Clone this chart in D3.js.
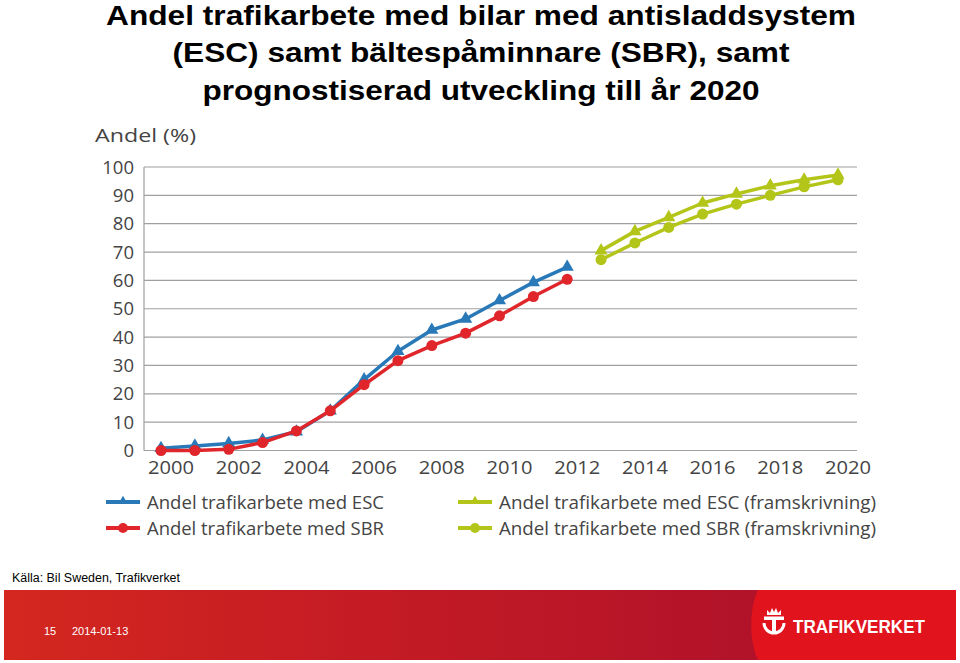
<!DOCTYPE html>
<html><head><meta charset="utf-8">
<script src="https://cdn.jsdelivr.net/npm/d3@7/dist/d3.min.js"></script>
<style>body{margin:0;background:#fff}svg{display:block}</style>
</head><body>
<svg id="c" width="960" height="663"></svg>
<script>
const titleLines = ["Andel trafikarbete med bilar med antisladdsystem","(ESC) samt bältespåminnare (SBR), samt","prognostiserad utveckling till år 2020"];
const years = [2000,2001,2002,2003,2004,2005,2006,2007,2008,2009,2010,2011,2012];
const esc = [0.8,1.6,2.5,3.7,6.6,14,25,35,42.5,46.4,52.9,59.3,64.7];
const sbr = [0,0,0.4,2.8,6.9,14,23.2,31.7,37,41.4,47.5,54.3,60.4];
const yearsF = [2013,2014,2015,2016,2017,2018,2019,2020];
const escF = [70.5,77.3,82.2,87.3,90.5,93.4,95.5,97.2];
const sbrF = [67.3,73.2,78.7,83.4,86.9,90,93,95.5];
const yTicks = [0,10,20,30,40,50,60,70,80,90,100];
const xTicks = [2000,2002,2004,2006,2008,2010,2012,2014,2016,2018,2020];
const legendLabels = ["Andel trafikarbete med ESC","Andel trafikarbete med SBR","Andel trafikarbete med ESC (framskrivning)","Andel trafikarbete med SBR (framskrivning)"];
const source = "Källa:  Bil Sweden, Trafikverket";
const pageNo = "15", dateStr = "2014-01-13", brand = "TRAFIKVERKET";

const BLUE="#2979b8", RED="#e0262b", GREEN="#b4c51a";
const svg = d3.select("#c");
const FONT = "'Open Sans', sans-serif";
const ARIAL = "'Liberation Sans', Arial, sans-serif";

// title
const tY=[25,62,100];
const tW=[750,617,557];
titleLines.forEach((t,i)=>{
  svg.append("text").attr("x",481).attr("y",tY[i]).attr("text-anchor","middle")
    .attr("font-family",ARIAL).attr("font-weight","bold")
    .attr("font-size",27).attr("fill","#000")
    .attr("textLength",tW[i]).attr("lengthAdjust","spacingAndGlyphs").text(t);
});

const x = d3.scaleLinear().domain([2000,2020]).range([161,838]);
const y = d3.scaleLinear().domain([0,100]).range([450.5,167]);

// grid
const g = svg.append("g");
g.selectAll("line.grid").data(yTicks).join("line")
  .attr("x1",144).attr("x2",857).attr("y1",d=>y(d)).attr("y2",d=>y(d))
  .attr("stroke","#a0a0a0").attr("stroke-width",1.2);
g.append("line").attr("x1",144).attr("x2",144).attr("y1",y(100)).attr("y2",y(0)).attr("stroke","#a0a0a0").attr("stroke-width",1.2);

g.selectAll("text.yt").data(yTicks).join("text")
  .attr("x",134).attr("y",d=>y(d)+6.5).attr("text-anchor","end")
  .attr("font-family",FONT).attr("font-size",18.5).attr("fill","#444").text(d=>d);
g.selectAll("text.xt").data(xTicks).join("text")
  .attr("x",d=>x(d)+10).attr("y",474).attr("text-anchor","middle")
  .attr("font-family",FONT).attr("font-size",18.5).attr("fill","#444")
  .attr("textLength",46).attr("lengthAdjust","spacingAndGlyphs").text(d=>d);
svg.append("text").attr("x",95).attr("y",142).attr("font-family",FONT).attr("font-size",19).attr("fill","#444")
  .attr("textLength",101).attr("lengthAdjust","spacingAndGlyphs").text("Andel (%)");

const line = d3.line().x(d=>x(d[0])).y(d=>y(d[1]));
const tri = d3.symbol().type(d3.symbolTriangle).size(75);
function series(xs, vs, color, shape){
  const pts = xs.map((yr,i)=>[yr,vs[i]]);
  svg.append("path").attr("d",line(pts)).attr("fill","none").attr("stroke",color).attr("stroke-width",3.5).attr("stroke-linejoin","round");
  if(shape==="tri"){
    svg.selectAll(null).data(pts).join("path").attr("d",tri)
      .attr("transform",d=>`translate(${x(d[0])},${y(d[1])})`).attr("fill",color);
  } else {
    svg.selectAll(null).data(pts).join("circle").attr("cx",d=>x(d[0])).attr("cy",d=>y(d[1])).attr("r",5.5).attr("fill",color);
  }
}
series(years, esc, BLUE, "tri");
series(years, sbr, RED, "circ");
series(yearsF, escF, GREEN, "tri");
series(yearsF, sbrF, GREEN, "circ");

// legend
const leg = [
  {x:106,y:502,c:BLUE,s:"tri",t:legendLabels[0],w:237},
  {x:106,y:528,c:RED,s:"circ",t:legendLabels[1],w:237},
  {x:458,y:502,c:GREEN,s:"tri",t:legendLabels[2],w:377},
  {x:458,y:528,c:GREEN,s:"circ",t:legendLabels[3],w:377}
];
leg.forEach(l=>{
  svg.append("line").attr("x1",l.x).attr("x2",l.x+34).attr("y1",l.y).attr("y2",l.y).attr("stroke",l.c).attr("stroke-width",4);
  if(l.s==="tri") svg.append("path").attr("d",d3.symbol().type(d3.symbolTriangle).size(35)()).attr("transform",`translate(${l.x+17},${l.y-1})`).attr("fill",l.c);
  else svg.append("circle").attr("cx",l.x+17).attr("cy",l.y).attr("r",5).attr("fill",l.c);
  svg.append("text").attr("x",l.x+41).attr("y",l.y+6.5).attr("font-family",FONT).attr("font-size",18.5).attr("fill","#444")
    .attr("textLength",l.w).attr("lengthAdjust","spacingAndGlyphs").text(l.t);
});

// source
svg.append("text").attr("x",12).attr("y",582).attr("font-family",ARIAL).attr("font-size",12.5).attr("fill","#000")
  .attr("textLength",168).attr("lengthAdjust","spacingAndGlyphs").text(source);

// footer band
const defs = svg.append("defs");
const grad = defs.append("linearGradient").attr("id","fg").attr("x1","0").attr("x2","1").attr("y1","0").attr("y2","0");
grad.append("stop").attr("offset","0").attr("stop-color","#d3271f");
grad.append("stop").attr("offset","0.35").attr("stop-color","#c61c24");
grad.append("stop").attr("offset","1").attr("stop-color","#a80e2c");
svg.append("rect").attr("x",4).attr("y",590).attr("width",952).attr("height",70).attr("fill","url(#fg)");
svg.append("path").attr("d","M758,590 C749,608 749,642 758,660 L956,660 L956,590 Z").attr("fill","#e1141e");
svg.append("text").attr("x",44).attr("y",635).attr("font-family",ARIAL).attr("font-size",11).attr("fill","#fff").text(pageNo);
svg.append("text").attr("x",72).attr("y",635).attr("font-family",ARIAL).attr("font-size",11).attr("fill","#fff").text(dateStr);
// logo icon
const lg = svg.append("g").attr("transform","translate(774,625)").attr("fill","#fff").attr("stroke","none");
lg.append("path").attr("d","M-7,-10 L-7,-15 L-4,-12 L-2,-17 L0,-13 L2,-17 L4,-12 L7,-15 L7,-10 Z");
lg.append("rect").attr("x",-10).attr("y",-8.5).attr("width",20).attr("height",3.5);
lg.append("rect").attr("x",-2).attr("y",-5).attr("width",4).attr("height",13);
lg.append("path").attr("d","M-10,-2 A10,10 0 0 0 10,-2").attr("fill","none").attr("stroke","#fff").attr("stroke-width",3);
svg.append("text").attr("x",793).attr("y",633).attr("font-family",ARIAL).attr("font-weight","bold").attr("font-size",18).attr("fill","#fff")
  .attr("textLength",132).attr("lengthAdjust","spacingAndGlyphs").text(brand);
</script>
</body></html>
